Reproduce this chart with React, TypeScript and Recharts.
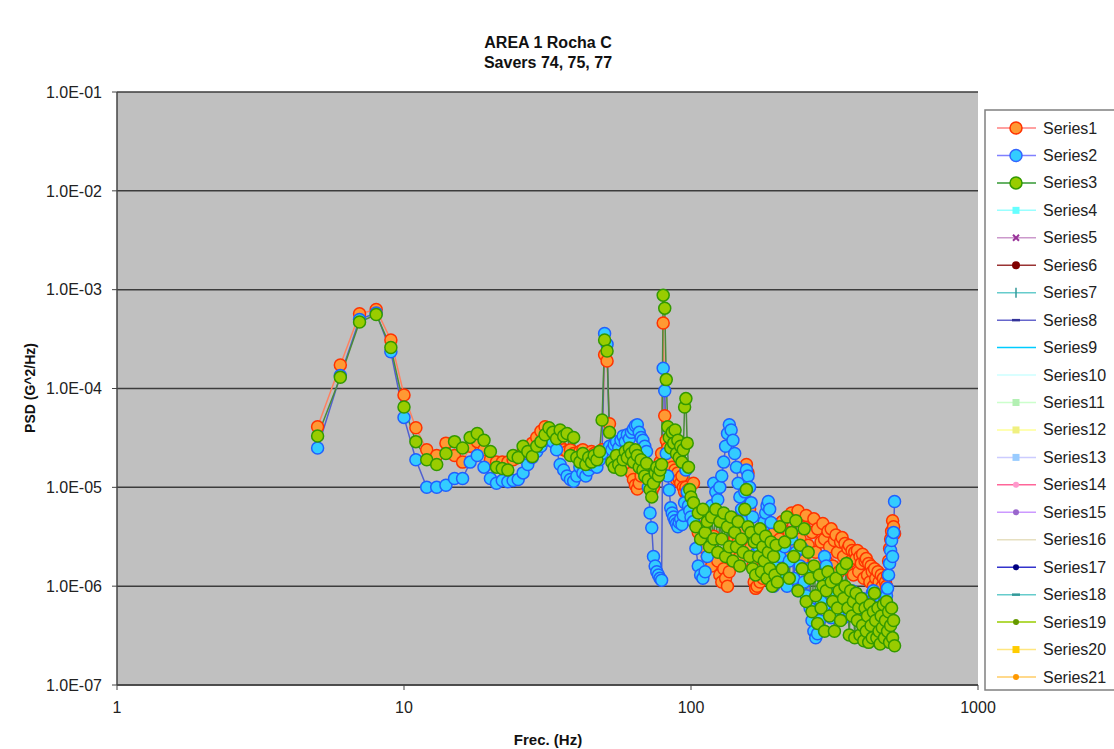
import React from 'react';
import { LineChart, Line, XAxis, YAxis, CartesianGrid } from 'recharts';

const FONT = 'Arial, "Liberation Sans", Helvetica, sans-serif';

const freqs = [
  5, 6, 7, 8, 9, 10, 11, 12, 13, 14, 15, 16, 17, 18, 19, 20, 21, 22, 23, 24,
  25, 26, 27, 28, 29, 30, 31, 32, 33, 34, 35, 36, 37, 38, 39, 40, 41, 42, 43, 44,
  45, 46, 47, 48, 49, 50, 51, 52, 53, 54, 55, 56, 57, 58, 59, 60, 61, 62, 63, 64,
  65, 66, 67, 68, 69, 70, 71, 72, 73, 74, 75, 76, 77, 78, 79, 80, 81, 82, 83, 84,
  85, 86, 87, 88, 89, 90, 91, 92, 93, 94, 95, 96, 97, 98, 99, 100,
  102, 104, 106, 108, 110, 112, 114, 116, 118, 120, 122, 124, 126, 128, 130, 132, 134, 136, 138, 140,
  142, 144, 146, 148, 150, 152, 154, 156, 158, 160, 162, 164, 166, 168, 170, 172, 174, 176, 178, 180,
  182, 184, 186, 188, 190, 192, 194, 196, 198, 200,
  204, 208, 212, 216, 220, 224, 228, 232, 236, 240, 244, 248, 252, 256, 260, 264, 268, 272, 276, 280,
  284, 288, 292, 296, 300, 304, 308, 312, 316, 320, 324, 328, 332, 336, 340, 344, 348, 352, 356, 360,
  364, 368, 372, 376, 380, 384, 388, 392, 396, 400, 404, 408, 412, 416, 420, 424, 428, 432, 436, 440,
  444, 448, 452, 456, 460, 464, 468, 472, 476, 480, 484, 488, 492, 496, 500, 504, 508, 512,
];

const series1 = [
  4.1e-5, 1.73e-4, 5.7e-4, 6.3e-4, 3.1e-4, 8.6e-5, 4.0e-5, 2.4e-5, 2.1e-5, 2.8e-5,
  2.1e-5, 1.8e-5, 2.6e-5, 2.9e-5, 2.4e-5, 1.9e-5, 1.8e-5, 1.8e-5, 1.8e-5, 1.9e-5,
  2.0e-5, 2.3e-5, 2.5e-5, 2.8e-5, 3.2e-5, 3.7e-5, 4.1e-5, 3.8e-5, 3.3e-5, 2.9e-5,
  2.6e-5, 2.4e-5, 2.3e-5, 2.4e-5, 2.2e-5, 2.1e-5, 2.3e-5, 2.4e-5, 2.0e-5, 2.1e-5,
  2.3e-5, 2.2e-5, 2.0e-5, 2.1e-5, 2.4e-5, 2.2e-4, 1.9e-4, 4.4e-5, 2.6e-5, 2.3e-5,
  2.0e-5, 2.2e-5, 2.4e-5, 2.1e-5, 1.9e-5, 1.8e-5, 1.6e-5, 1.4e-5, 1.2e-5, 1.05e-5,
  9.6e-6, 1.1e-5, 1.3e-5, 1.5e-5, 1.7e-5, 1.5e-5, 1.3e-5, 1.1e-5, 9.0e-6, 1.0e-5,
  1.2e-5, 1.4e-5, 1.6e-5, 1.8e-5, 2.2e-5, 4.6e-4, 5.3e-5, 3.0e-5, 2.5e-5, 1.8e-5,
  1.4e-5, 1.6e-5, 1.3e-5, 1.5e-5, 1.2e-5, 1.4e-5, 1.2e-5, 1.1e-5, 1.3e-5, 1.0e-5,
  9.0e-6, 1.0e-5, 8.5e-6, 9.5e-6, 8.0e-6, 7.0e-6,
  1.1e-5, 6.0e-6, 3.5e-6, 2.5e-6, 4.0e-6, 3.0e-6, 2.0e-6, 2.8e-6, 1.6e-6, 3.2e-6,
  2.2e-6, 1.8e-6, 1.3e-6, 1.1e-6, 1.5e-6, 1.2e-6, 1.0e-6, 1.4e-6, 1.9e-6, 2.4e-6,
  3.0e-6, 2.2e-6, 2.8e-6, 2.0e-6, 3.5e-6, 5.0e-6, 9.0e-6, 1.7e-5, 1.4e-5, 6.0e-6,
  2.5e-6, 1.6e-6, 1.1e-6, 9.5e-7, 1.0e-6, 1.3e-6, 1.1e-6, 1.5e-6, 1.2e-6, 1.9e-6,
  1.4e-6, 2.3e-6, 1.7e-6, 2.6e-6, 2.0e-6, 3.0e-6, 2.4e-6, 3.6e-6, 2.8e-6, 4.2e-6,
  3.0e-6, 4.5e-6, 2.2e-6, 5.0e-6, 3.5e-6, 5.5e-6, 2.5e-6, 4.6e-6, 5.8e-6, 3.0e-6,
  1.8e-6, 4.0e-6, 5.2e-6, 2.6e-6, 1.5e-6, 3.5e-6, 4.8e-6, 2.2e-6, 3.8e-6, 1.4e-6,
  2.8e-6, 4.3e-6, 3.0e-6, 1.8e-6, 3.6e-6, 2.5e-6, 3.8e-6, 1.6e-6, 2.9e-6, 3.3e-6,
  2.2e-6, 1.4e-6, 2.8e-6, 3.1e-6, 2.0e-6, 2.7e-6, 1.5e-6, 2.4e-6, 2.6e-6, 1.8e-6,
  2.3e-6, 1.3e-6, 2.2e-6, 1.9e-6, 2.3e-6, 1.4e-6, 2.0e-6, 1.7e-6, 2.1e-6, 1.2e-6,
  1.8e-6, 1.9e-6, 1.3e-6, 1.7e-6, 1.1e-6, 1.6e-6, 1.4e-6, 1.0e-6, 1.5e-6, 1.2e-6,
  9.5e-7, 1.4e-6, 1.1e-6, 9.0e-7, 1.3e-6, 1.0e-6, 1.2e-6, 8.5e-7, 1.1e-6, 1.0e-6,
  1.3e-6, 1.8e-6, 2.4e-6, 3.0e-6, 3.6e-6, 4.6e-6, 4.0e-6, 3.4e-6,
];

const series2 = [
  2.5e-5, 1.35e-4, 5.0e-4, 5.8e-4, 2.35e-4, 5.1e-5, 1.9e-5, 1.0e-5, 1.0e-5, 1.05e-5,
  1.23e-5, 1.23e-5, 1.8e-5, 2.1e-5, 1.6e-5, 1.23e-5, 1.1e-5, 1.17e-5, 1.14e-5, 1.17e-5,
  1.2e-5, 1.4e-5, 1.7e-5, 2.0e-5, 2.3e-5, 2.6e-5, 3.0e-5, 3.2e-5, 2.9e-5, 2.4e-5,
  1.7e-5, 1.5e-5, 1.3e-5, 1.2e-5, 1.15e-5, 1.3e-5, 1.6e-5, 1.4e-5, 1.3e-5, 1.5e-5,
  1.7e-5, 1.8e-5, 1.6e-5, 1.9e-5, 2.2e-5, 3.6e-4, 2.8e-4, 2.6e-5, 2.4e-5, 2.7e-5,
  2.9e-5, 2.5e-5, 3.0e-5, 3.3e-5, 2.9e-5, 3.4e-5, 3.1e-5, 3.6e-5, 3.9e-5, 4.2e-5,
  4.3e-5, 3.6e-5, 3.2e-5, 3.0e-5, 2.6e-5, 2.3e-5, 1.0e-5, 5.5e-6, 3.9e-6, 2.0e-6,
  1.6e-6, 1.4e-6, 1.3e-6, 1.2e-6, 1.15e-6, 1.6e-4, 9.5e-5, 2.2e-5, 1.3e-5, 9.4e-6,
  6.2e-6, 5.5e-6, 5.0e-6, 4.6e-6, 4.3e-6, 4.0e-6, 4.4e-6, 4.8e-6, 4.2e-6, 5.2e-6,
  7.0e-6, 1.5e-5, 9.0e-6, 6.5e-6, 5.8e-6, 5.0e-6,
  4.5e-6, 2.4e-6, 1.6e-6, 1.3e-6, 1.2e-6, 1.4e-6, 2.0e-6, 3.0e-6, 6.5e-6, 1.1e-5,
  9.0e-6, 7.5e-6, 1.0e-5, 1.3e-5, 1.8e-5, 2.6e-5, 3.5e-5, 4.3e-5, 3.8e-5, 3.0e-5,
  2.2e-5, 1.6e-5, 1.1e-5, 8.0e-6, 6.0e-6, 4.5e-6, 9.0e-6, 1.5e-5, 1.3e-5, 1.0e-5,
  7.0e-6, 5.0e-6, 3.5e-6, 2.8e-6, 2.2e-6, 2.5e-6, 3.0e-6, 3.5e-6, 4.0e-6, 4.5e-6,
  5.5e-6, 6.5e-6, 7.2e-6, 6.0e-6, 4.4e-6, 2.0e-6, 1.0e-6, 1.5e-6, 2.5e-6, 1.8e-6,
  2.0e-6, 1.4e-6, 2.5e-6, 1.0e-6, 1.8e-6, 3.0e-6, 1.2e-6, 2.2e-6, 9.0e-7, 1.6e-6,
  2.4e-6, 1.1e-6, 8.0e-7, 1.5e-6, 6.0e-7, 4.5e-7, 3.5e-7, 3.0e-7, 3.3e-7, 4.5e-7,
  7.0e-7, 1.2e-6, 2.0e-6, 1.6e-6, 9.0e-7, 6.0e-7, 4.8e-7, 7.0e-7, 5.5e-7, 8.0e-7,
  6.5e-7, 5.0e-7, 7.5e-7, 6.0e-7, 4.8e-7, 6.5e-7, 8.5e-7, 7.0e-7, 5.5e-7, 6.2e-7,
  9.0e-7, 7.0e-7, 5.5e-7, 6.0e-7, 8.0e-7, 6.5e-7, 5.0e-7, 5.8e-7, 7.5e-7, 6.0e-7,
  4.6e-7, 5.5e-7, 7.0e-7, 6.0e-7, 5.0e-7, 6.5e-7, 8.5e-7, 9.0e-7, 7.5e-7, 6.5e-7,
  8.0e-7, 6.0e-7, 5.0e-7, 6.5e-7, 7.5e-7, 5.5e-7, 6.5e-7, 7.0e-7, 6.0e-7, 8.0e-7,
  9.5e-7, 1.3e-6, 1.7e-6, 2.3e-6, 2.9e-6, 2.0e-6, 3.5e-6, 7.2e-6,
];

const series3 = [
  3.3e-5, 1.3e-4, 4.7e-4, 5.6e-4, 2.6e-4, 6.5e-5, 2.9e-5, 1.9e-5, 1.7e-5, 2.2e-5,
  2.9e-5, 2.5e-5, 3.2e-5, 3.5e-5, 3.0e-5, 2.3e-5, 1.6e-5, 1.55e-5, 1.5e-5, 2.1e-5,
  2.0e-5, 2.6e-5, 2.3e-5, 2.05e-5, 2.6e-5, 2.9e-5, 3.4e-5, 4.0e-5, 3.6e-5, 3.1e-5,
  3.8e-5, 3.3e-5, 3.5e-5, 2.1e-5, 3.2e-5, 2.0e-5, 1.8e-5, 2.2e-5, 1.7e-5, 2.0e-5,
  1.8e-5, 2.1e-5, 1.9e-5, 2.3e-5, 4.8e-5, 3.1e-4, 2.4e-4, 3.6e-5, 1.8e-5, 1.6e-5,
  2.1e-5, 1.7e-5, 1.5e-5, 1.9e-5, 2.3e-5, 2.0e-5, 2.5e-5, 2.2e-5, 1.8e-5, 2.4e-5,
  2.1e-5, 1.6e-5, 1.9e-5, 1.5e-5, 1.3e-5, 1.75e-5, 1.2e-5, 9.5e-6, 8.0e-6, 1.1e-5,
  1.4e-5, 1.6e-5, 1.3e-5, 1.5e-5, 1.7e-5, 8.8e-4, 6.5e-4, 1.23e-4, 4.1e-5, 3.2e-5,
  2.5e-5, 3.6e-5, 2.8e-5, 3.8e-5, 2.2e-5, 3.0e-5, 2.0e-5, 2.6e-5, 1.8e-5, 2.4e-5,
  6.5e-5, 7.9e-5, 2.8e-5, 1.6e-5, 9.5e-6, 8.0e-6,
  7.0e-6, 4.0e-6, 5.5e-6, 3.0e-6, 6.0e-6, 3.5e-6, 4.5e-6, 2.5e-6, 5.0e-6, 3.0e-6,
  6.0e-6, 2.2e-6, 4.5e-6, 3.0e-6, 5.5e-6, 2.0e-6, 4.0e-6, 2.5e-6, 5.0e-6, 1.8e-6,
  3.5e-6, 2.5e-6, 4.5e-6, 1.6e-6, 3.0e-6, 2.2e-6, 6.0e-6, 9.5e-6, 4.0e-6, 2.0e-6,
  3.5e-6, 1.5e-6, 2.8e-6, 1.3e-6, 3.0e-6, 2.0e-6, 3.8e-6, 1.4e-6, 2.5e-6, 1.8e-6,
  3.2e-6, 1.2e-6, 2.2e-6, 1.5e-6, 2.8e-6, 1.0e-6, 2.0e-6, 1.3e-6, 2.6e-6, 1.1e-6,
  4.0e-6, 1.5e-6, 2.8e-6, 5.0e-6, 1.2e-6, 3.5e-6, 2.0e-6, 4.6e-6, 9.0e-7, 2.6e-6,
  1.5e-6, 3.8e-6, 7.0e-7, 2.2e-6, 1.2e-6, 5.5e-7, 1.6e-6, 8.0e-7, 4.2e-7, 1.3e-6,
  6.0e-7, 1.0e-6, 3.5e-7, 9.0e-7, 1.4e-6, 5.0e-7, 1.1e-6, 7.0e-7, 3.5e-7, 1.2e-6,
  6.0e-7, 9.0e-7, 4.5e-7, 1.5e-6, 7.5e-7, 1.0e-6, 1.7e-6, 6.0e-7, 3.2e-7, 9.0e-7,
  5.0e-7, 7.0e-7, 3.0e-7, 8.5e-7, 4.5e-7, 6.0e-7, 3.2e-7, 7.5e-7, 4.0e-7, 2.8e-7,
  6.0e-7, 3.5e-7, 5.0e-7, 2.7e-7, 6.5e-7, 4.0e-7, 3.0e-7, 5.5e-7, 8.5e-7, 4.5e-7,
  3.0e-7, 6.0e-7, 3.5e-7, 2.6e-7, 5.0e-7, 3.8e-7, 6.5e-7, 3.0e-7, 4.5e-7, 7.0e-7,
  3.5e-7, 5.5e-7, 2.7e-7, 4.0e-7, 6.0e-7, 3.0e-7, 4.5e-7, 2.5e-7,
];

const xTicks = [1, 10, 100, 1000];
const yTicks = [1e-7, 1e-6, 1e-5, 1e-4, 1e-3, 1e-2, 1e-1];

const titleLines = ['AREA 1 Rocha C', 'Savers 74, 75, 77'];
const xTitle = 'Frec. (Hz)';
const yTitle = 'PSD (G^2/Hz)';

const legendNames = [
  'Series1', 'Series2', 'Series3', 'Series4', 'Series5', 'Series6', 'Series7',
  'Series8', 'Series9', 'Series10', 'Series11', 'Series12', 'Series13', 'Series14',
  'Series15', 'Series16', 'Series17', 'Series18', 'Series19', 'Series20', 'Series21',
];
const legendLineColors = [
  '#ff8080', '#8080ff', '#339933', '#99ffff', '#cc99cc', '#993333', '#66cccc',
  '#6666cc', '#00ccff', '#ccffff', '#ccffcc', '#ffff99', '#ccccff', '#ff6699',
  '#cc99ff', '#e6dfc0', '#3333cc', '#66cccc', '#99cc00', '#ffe680', '#ffcc66',
];
const legendMarkerColors = [
  '#ff9933', '#33ccff', '#99cc00', '#66ffff', '#993399', '#800000', '#339999',
  '#333399', '#00ccff', '#ccffff', '#b3f0b3', '#f0f080', '#99ccff', '#ff99cc',
  '#9966cc', '#e6dfc0', '#000080', '#339999', '#669900', '#ffcc00', '#ff9900',
];
const legendMarkerShapes = [
  'circle', 'circle', 'circle', 'square', 'x', 'smallcircle', 'plus',
  'dash', 'none', 'none', 'square', 'square', 'square', 'dot',
  'dot', 'none', 'dot', 'dash', 'dot', 'square', 'dot',
];
const legendMarkerStrokes = ['#ff3300', '#3366ff', '#339900'];

const rows = freqs.map((f, i) => ({ f, s1: series1[i], s2: series2[i], s3: series3[i] }));

function fmtSci(v: number) {
  const [m, e] = v.toExponential(1).split('e');
  const n = parseInt(e, 10);
  return `${m.toUpperCase()}E${n < 0 ? '-' : '+'}${String(Math.abs(n)).padStart(2, '0')}`;
}

function LegendMarker({ shape, color, stroke, cx, cy }: any) {
  switch (shape) {
    case 'circle':
      return <circle cx={cx} cy={cy} r={6} fill={color} stroke={stroke || color} strokeWidth={1.5} />;
    case 'smallcircle':
      return <circle cx={cx} cy={cy} r={4} fill={color} />;
    case 'square':
      return <rect x={cx - 3.5} y={cy - 3.5} width={7} height={7} fill={color} />;
    case 'x':
      return (
        <g stroke={color} strokeWidth={2}>
          <line x1={cx - 3} y1={cy - 3} x2={cx + 3} y2={cy + 3} />
          <line x1={cx - 3} y1={cy + 3} x2={cx + 3} y2={cy - 3} />
        </g>
      );
    case 'plus':
      return <line x1={cx} y1={cy - 5} x2={cx} y2={cy + 5} stroke={color} strokeWidth={1.5} />;
    case 'dash':
      return <line x1={cx - 4} y1={cy} x2={cx + 4} y2={cy} stroke={color} strokeWidth={2.5} />;
    case 'dot':
      return <circle cx={cx} cy={cy} r={3} fill={color} />;
    default:
      return null;
  }
}

export default function App() {
  const legX = 985;
  const legY = 110;
  const legStep = 27.45;
  return (
    <div style={{ position: 'absolute', left: 0, top: 0, width: 1114, height: 749, background: '#fff', fontFamily: FONT, overflow: 'hidden' }}>
      <LineChart width={1114} height={749} data={rows} margin={{ top: 92, right: 136, bottom: 34, left: 57 }}>
        <CartesianGrid vertical={false} stroke="#3c3c3c" strokeWidth={1.5} fill="#c0c0c0" fillOpacity={1} />
        <XAxis
          dataKey="f"
          type="number"
          scale="log"
          domain={[1, 1000]}
          ticks={xTicks}
          interval={0}
          allowDataOverflow
          height={30}
          tickSize={5}
          tickMargin={12}
          axisLine={{ stroke: '#444', strokeWidth: 1.5 }}
          tickLine={{ stroke: '#444' }}
          tick={{ fontSize: 16, fill: '#222', fontFamily: FONT }}
        />
        <YAxis
          type="number"
          scale="log"
          domain={[1e-7, 1e-1]}
          ticks={yTicks}
          interval={0}
          allowDataOverflow
          width={60}
          tickSize={5}
          tickMargin={10}
          tickFormatter={fmtSci}
          axisLine={{ stroke: '#444', strokeWidth: 1.5 }}
          tickLine={{ stroke: '#444' }}
          tick={{ fontSize: 16, fill: '#222', fontFamily: FONT }}
        />
        <Line
          dataKey="s1"
          stroke="#ff8060"
          strokeWidth={1.5}
          dot={{ r: 6, fill: '#ff9933', stroke: '#ff3300', strokeWidth: 1.5 }}
          activeDot={false}
          isAnimationActive={false}
        />
        <Line
          dataKey="s2"
          stroke="#5060d0"
          strokeWidth={1.5}
          dot={{ r: 6, fill: '#33ccff', stroke: '#2060ff', strokeWidth: 1.5 }}
          activeDot={false}
          isAnimationActive={false}
        />
        <Line
          dataKey="s3"
          stroke="#4a8a3a"
          strokeWidth={1.5}
          dot={{ r: 6, fill: '#99cc00', stroke: '#339900', strokeWidth: 1.5 }}
          activeDot={false}
          isAnimationActive={false}
        />
      </LineChart>
      <svg width={1114} height={749} style={{ position: 'absolute', left: 0, top: 0, pointerEvents: 'none' }}>
        <text x={548} y={48} textAnchor="middle" fontSize={16} fontWeight="bold" fill="#111" fontFamily={FONT}>{titleLines[0]}</text>
        <text x={548} y={68} textAnchor="middle" fontSize={16} fontWeight="bold" fill="#111" fontFamily={FONT}>{titleLines[1]}</text>
        <text x={548} y={745} textAnchor="middle" fontSize={15} fontWeight="bold" fill="#111" fontFamily={FONT}>{xTitle}</text>
        <text x={35} y={388} textAnchor="middle" fontSize={14} fontWeight="bold" fill="#111" fontFamily={FONT} transform="rotate(-90 35 388)">{yTitle}</text>
        <rect x={legX} y={legY} width={1114 - legX + 2} height={580} fill="#fff" stroke="#808080" strokeWidth={1.5} />
        {legendNames.map((name, i) => {
          const cy = legY + 18 + i * legStep;
          return (
            <g key={name}>
              {legendLineColors[i] && (
                <line x1={997} y1={cy} x2={1036} y2={cy} stroke={legendLineColors[i]} strokeWidth={1.5} />
              )}
              <LegendMarker shape={legendMarkerShapes[i]} color={legendMarkerColors[i]} stroke={legendMarkerStrokes[i]} cx={1016} cy={cy} />
              <text x={1043} y={cy} dominantBaseline="central" fontSize={16} fill="#222" fontFamily={FONT}>{name}</text>
            </g>
          );
        })}
      </svg>
    </div>
  );
}
